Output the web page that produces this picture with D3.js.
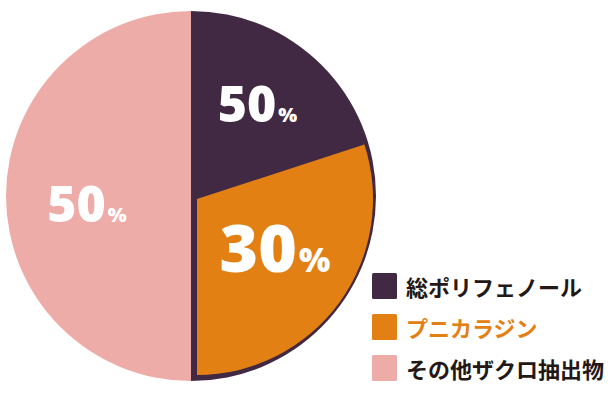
<!DOCTYPE html>
<html>
<head>
<meta charset="utf-8">
<script src="https://cdn.jsdelivr.net/npm/d3@7"></script>
<style>
  body { margin: 0; background: #fff; }
  svg { display: block; }
</style>
</head>
<body>
<script>
var width = 612;
var height = 410;

// outer ring: polyphenols vs rest, inner slice: punicalagin (part of polyphenols)
var categories = ["総ポリフェノール", "プニカラジン", "その他ザクロ抽出物"];
var outerValues = [50, 50];          // polyphenol, other extract
var innerValue = 30;                 // punicalagin
var labels = ["50", "30", "50"];
var colors = ["#412943", "#e38014", "#edaca8"];
var legendTextColors = ["#231815", "#e38014", "#231815"];

var cx = 191, cy = 196, R = 185;

var svg = d3.select("body").append("svg")
  .attr("width", width)
  .attr("height", height);

var angle = d3.scaleLinear().domain([0, 100]).range([0, 2 * Math.PI]);

var pie = d3.pie().sort(null).value(function(d){ return d; });
var outerArcs = pie(outerValues);

var arc = d3.arc().innerRadius(0).outerRadius(R);

var g = svg.append("g").attr("transform", "translate(" + cx + "," + cy + ")");

// outer halves
g.selectAll("path.outer")
  .data(outerArcs)
  .enter().append("path")
  .attr("class", "outer")
  .attr("d", arc)
  .attr("fill", function(d, i){ return i === 0 ? colors[0] : colors[2]; });

// punicalagin slice, ends at bottom of the polyphenol half, slightly inset
var innerArc = {
  startAngle: outerArcs[0].endAngle - angle(innerValue),
  endAngle: outerArcs[0].endAngle
};
g.append("path")
  .attr("transform", "translate(6,3)")
  .attr("d", d3.arc().innerRadius(0).outerRadius(R - 9)(innerArc))
  .attr("fill", colors[1]);

// label positions
var visibleDark = { startAngle: outerArcs[0].startAngle, endAngle: innerArc.startAngle };
var labelDefs = [
  { arc: visibleDark, r: 113, big: 50, small: 20, text: labels[0], dx: 0, dy: 0 },
  { arc: innerArc, r: 100, big: 66, small: 33, text: labels[1], dx: 3, dy: -6 },
  { arc: outerArcs[1], r: 104, big: 50, small: 20, text: labels[2], dx: 0, dy: 8 }
];

labelDefs.forEach(function(d){
  var c = d3.arc().innerRadius(d.r).outerRadius(d.r).centroid(d.arc);
  var t = g.append("text")
    .attr("x", c[0] + d.dx)
    .attr("y", c[1] + d.big * 0.35 + d.dy)
    .attr("text-anchor", "middle")
    .attr("fill", "#fff")
    .style("font-family", "'Open Sans', 'Noto Sans', sans-serif")
    .style("font-weight", 800);
  t.append("tspan").style("font-size", d.big + "px").text(d.text);
  t.append("tspan").style("font-size", d.small + "px").attr("dx", 2).text("%");
});

// legend
var legend = svg.append("g").attr("transform", "translate(372,273)");
var item = legend.selectAll("g")
  .data(categories)
  .enter().append("g")
  .attr("transform", function(d, i){ return "translate(0," + (i * 41) + ")"; });

item.append("rect")
  .attr("width", 25)
  .attr("height", 26)
  .attr("rx", 1.5)
  .attr("fill", function(d, i){ return colors[i]; });

item.append("text")
  .attr("x", 34)
  .attr("y", 13)
  .attr("dominant-baseline", "central")
  .attr("fill", function(d, i){ return legendTextColors[i]; })
  .style("font-family", "'Noto Sans CJK JP', sans-serif")
  .style("font-weight", 700)
  .style("font-size", "22px")
  .text(function(d){ return d; });
</script>
</body>
</html>
